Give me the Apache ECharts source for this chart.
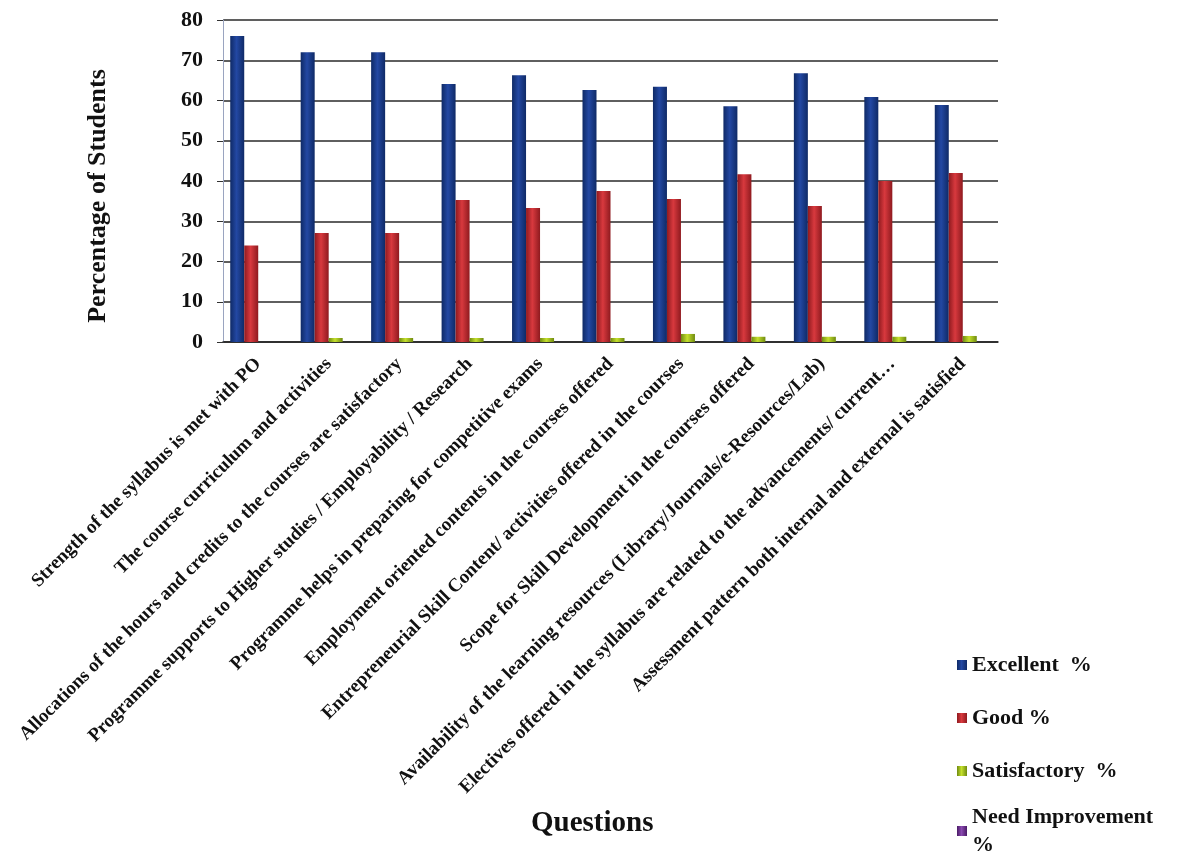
<!DOCTYPE html>
<html>
<head>
<meta charset="utf-8">
<script src="https://cdn.jsdelivr.net/npm/echarts@6/dist/echarts.min.js"></script>
<style>
html,body{margin:0;padding:0;background:#ffffff;}
#chart{width:1192px;height:856px;}
</style>
</head>
<body>
<div id="chart"></div>
<script>
const categories = [
  "Strength of the syllabus is met with PO",
  "The course curriculum and activities",
  "Allocations of the hours and credits to the courses are satisfactory",
  "Programme supports to Higher studies / Employability / Research",
  "Programme helps in preparing for competitive exams",
  "Employment oriented contents in the courses offered",
  "Entrepreneurial Skill Content/ activities offered in the courses",
  "Scope for Skill Development in the courses offered",
  "Availability of the learning resources (Library/Journals/e-Resources/Lab)",
  "Electives offered in the syllabus are related to the advancements/ current…",
  "Assessment pattern both internal and external is satisfied"
];
const seriesNames = ["Excellent  %", "Good %", "Satisfactory  %", "Need Improvement %"];
const excellent = [76, 72, 72, 64.1, 66.3, 62.6, 63.4, 58.6, 66.8, 60.9, 58.9];
const good = [24, 27.1, 27.1, 35.3, 33.3, 37.5, 35.5, 41.7, 33.8, 40, 42];
const satisfactory = [0, 1, 1, 1, 1, 1, 2, 1.3, 1.3, 1.3, 1.5];
const needImprovement = [0, 0, 0, 0, 0, 0, 0, 0, 0, 0, 0];
const yTicks = [0, 10, 20, 30, 40, 50, 60, 70, 80];

const FONT = '"Liberation Serif", "DejaVu Serif", serif';

function grad(edge, mid) {
  return new echarts.graphic.LinearGradient(0, 0, 1, 0, [
    {offset: 0, color: edge},
    {offset: 0.45, color: mid},
    {offset: 1, color: edge}
  ]);
}
const colors = [
  grad('#0f2a66', '#2348a3'),
  grad('#8f1a1f', '#d8393e'),
  grad('#6f8a10', '#c4e02c'),
  grad('#4a1a66', '#8a4ab0')
];
const legendColors = ['#1d3f92', '#c8282e', '#a8c820', '#7a3a9a'];
const dataSets = [excellent, good, satisfactory, needImprovement];

const legendText = {fontFamily: FONT, fontWeight: 'bold', fontSize: 22, color: '#111', lineHeight: 28};

const chart = echarts.init(document.getElementById('chart'), null, {renderer: 'canvas'});
chart.setOption({
  backgroundColor: '#ffffff',
  animation: false,
  color: legendColors,
  title: {
    text: 'Questions',
    left: 526, top: 804,
    textStyle: {fontFamily: FONT, fontWeight: 'bold', fontSize: 29, color: '#111'}
  },
  legend: [{
    orient: 'vertical',
    left: 957, top: 651,
    height: 200,
    padding: 0,
    itemWidth: 10, itemHeight: 10, itemGap: 25,
    icon: 'rect',
    data: seriesNames.slice(0, 3),
    textStyle: legendText
  }, {
    orient: 'vertical',
    left: 957, top: 803,
    height: 60,
    padding: 0,
    itemWidth: 10, itemHeight: 10,
    icon: 'rect',
    data: seriesNames.slice(3),
    formatter: function (n) { return 'Need Improvement\n%'; },
    textStyle: legendText
  }],
  grid: {left: 223, right: 194, top: 20, bottom: 514, containLabel: false},
  xAxis: {
    type: 'category',
    data: categories,
    axisTick: {show: false},
    axisLine: {lineStyle: {color: '#222', width: 1.5}},
    axisLabel: {
      interval: 0, rotate: 45, margin: 19,
      fontFamily: FONT, fontWeight: 'bold', fontSize: 19, color: '#111'
    }
  },
  yAxis: {
    type: 'value',
    min: 0, max: 80, interval: 10,
    name: 'Percentage of Students',
    nameLocation: 'middle',
    nameGap: 112,
    nameTextStyle: {fontFamily: FONT, fontWeight: 'bold', fontSize: 26, color: '#111', padding: [0, 30, 0, 0]},
    axisLine: {show: true, lineStyle: {color: '#9aa4c0', width: 1}},
    axisTick: {show: true, length: 6, lineStyle: {color: '#333'}},
    axisLabel: {
      margin: 20,
      fontFamily: FONT, fontWeight: 'bold', fontSize: 22, color: '#111',
      formatter: function (v) { return yTicks.indexOf(v) >= 0 ? String(v) : ''; }
    },
    splitLine: {lineStyle: {color: '#2a2a2a', width: 1.5}}
  },
  series: seriesNames.map(function (name, i) {
    return {
      name: name,
      type: 'bar',
      data: dataSets[i],
      barWidth: 14,
      barGap: '0%',
      itemStyle: {color: colors[i]}
    };
  })
});
</script>
</body>
</html>
